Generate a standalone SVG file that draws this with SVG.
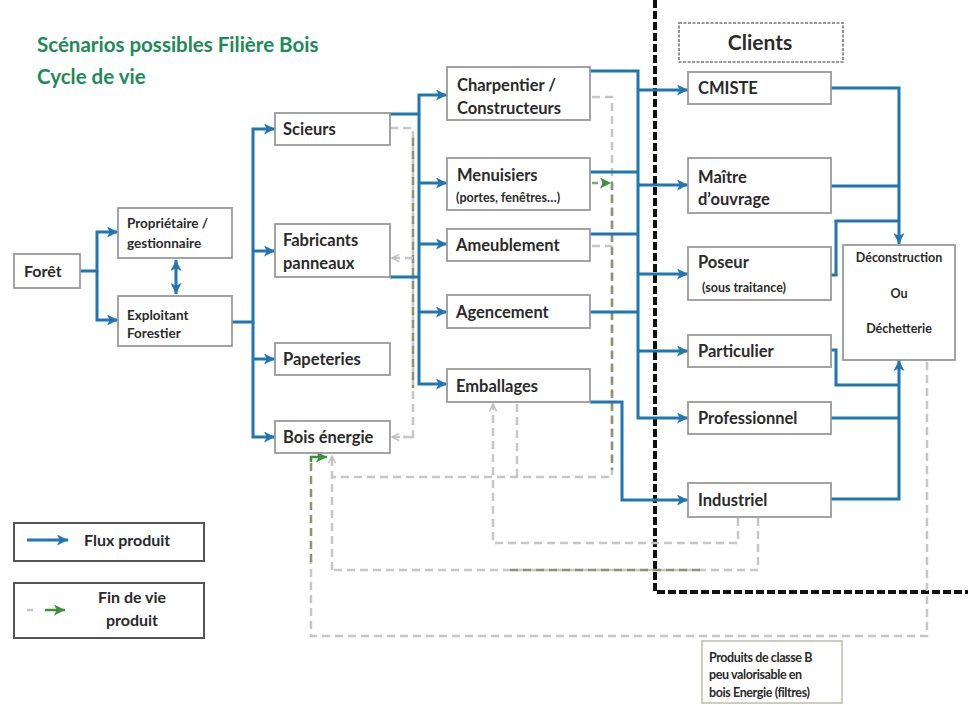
<svg xmlns="http://www.w3.org/2000/svg" width="968" height="705" viewBox="0 0 968 705">
<style>
text{font-family:Lato,"Open Sans","Liberation Sans",sans-serif;font-weight:bold;fill:#2a2a2a}
.t{font-size:16.5px}
.s{font-size:13.5px}
.xs{font-size:12.5px}
.title{font-size:20.5px;fill:#1e8a58}
.box{fill:#fff;stroke:#9a9a9a;stroke-width:1.8}
.flow{fill:none;stroke:#1f76b3;stroke-width:3}
.fa{marker-end:url(#ab)}
.fin{fill:none;stroke:#c6c6c6;stroke-width:2.5;stroke-dasharray:8 5}
.olive{fill:none;stroke:#8c9470;stroke-width:2.5;stroke-dasharray:8 5}
.fga{marker-end:url(#ag)}
.fgr{marker-end:url(#agr)}
</style>
<defs>
<marker id="ab" viewBox="0 0 10 10" refX="10" refY="5" markerWidth="11" markerHeight="11" markerUnits="userSpaceOnUse" orient="auto-start-reverse"><path d="M0,0 L10,5 L0,10 L2.5,5 z" fill="#1f76b3"/></marker>
<marker id="ag" viewBox="0 0 10 10" refX="10" refY="5" markerWidth="11" markerHeight="11" markerUnits="userSpaceOnUse" orient="auto"><path d="M0,0 L10,5 L0,10 L2.5,5 z" fill="#3d8f3a"/></marker>
<marker id="agr" viewBox="0 0 10 10" refX="9" refY="5" markerWidth="9" markerHeight="9" markerUnits="userSpaceOnUse" orient="auto"><path d="M1,1 L9,5 L1,9" fill="none" stroke="#bdbdbd" stroke-width="1.6"/></marker>
</defs>

<text class="title" x="37" y="52">Scénarios possibles Filière Bois</text>
<text class="title" x="37" y="84">Cycle de vie</text>

<!-- black dashed boundary -->
<path d="M655,0 V592 H968" fill="none" stroke="#111" stroke-width="4" stroke-dasharray="8 3"/>

<!-- connectors -->
<g id="connectors">
<!-- fin de vie (gray / olive dashed) -->
<path class="fin" d="M390,128 H413 V437 H403"/>
<path class="fin fgr" d="M413,437 H392"/>
<path class="olive" d="M413,138 V388"/>
<path class="fin fgr" d="M413,258 H392"/>
<path class="fin" d="M592,97 H612 V477 H332"/>
<path class="olive" d="M612,182 V470"/>
<path class="fin" d="M592,246 H612"/>
<path class="fin fgr" d="M332,570 V456"/>
<path class="fin" d="M758,518 V570 H332"/>
<path class="olive" d="M510,570 H700"/>
<path class="fin fgr" d="M738,518 V543 H493 V404"/>
<path class="fin" d="M517,404 V477"/>
<path class="fin" d="M927,362 V636 H311 V560"/>
<path class="olive" d="M311,562 V462"/>
<path fill="none" stroke="#3d8f3a" stroke-width="2.5" class="fga" d="M311,462 V457 H327"/>
<path fill="none" stroke="#7dab6a" stroke-width="2.5" stroke-dasharray="6 4" class="fga" d="M592,183 H611"/>

<!-- flux produit (blue) -->
<path class="flow fa" d="M80,271 H97 V232 H118"/>
<path class="flow fa" d="M97,271 V320 H118"/>
<path class="flow" d="M176,260 V294" marker-start="url(#ab)" marker-end="url(#ab)"/>
<path class="flow fa" d="M232,322 H253 V129 H275"/>
<path class="flow fa" d="M253,251 H275"/>
<path class="flow fa" d="M253,322 V437 H275"/>
<path class="flow fa" d="M253,359 H275"/>
<path class="flow fa" d="M390,114 H419 V95 H447"/>
<path class="flow fa" d="M419,114 V384 H447"/>
<path class="flow fa" d="M419,183 H447"/>
<path class="flow fa" d="M419,244 H447"/>
<path class="flow fa" d="M419,312 H447"/>
<path class="flow" d="M390,277 H419"/>
<path class="flow fa" d="M590,71 H638 V418 H688"/>
<path class="flow fa" d="M638,90 H688"/>
<path class="flow" d="M590,172 H638"/>
<path class="flow fa" d="M638,185 H688"/>
<path class="flow" d="M590,234 H638"/>
<path class="flow fa" d="M638,274 H688"/>
<path class="flow" d="M590,312 H638"/>
<path class="flow fa" d="M638,351 H688"/>
<path class="flow fa" d="M590,402 H622 V500 H688"/>
<path class="flow fa" d="M831,88 H899 V244"/>
<path class="flow" d="M831,186 H899"/>
<path class="flow" d="M831,275 H836 V221 H899"/>
<path class="flow" d="M831,350 H836 V385 H899"/>
<path class="flow" d="M831,418 H899"/>
<path class="flow fa" d="M831,499 H899 V360"/>
</g>

<!-- nodes -->
<g id="foret"><rect class="box" x="14" y="254" width="66" height="34"/><text x="24" y="277" style="font-size:16px">Forêt</text></g>
<g id="proprietaire"><rect class="box" x="118" y="208" width="114" height="50"/><text class="s" x="127" y="228">Propriétaire /</text><text class="s" x="127" y="248">gestionnaire</text></g>
<g id="exploitant"><rect class="box" x="118" y="296" width="114" height="50"/><text class="s" x="127" y="320">Exploitant</text><text class="s" x="127" y="338">Forestier</text></g>
<g id="scieurs"><rect class="box" x="275" y="113" width="115" height="32"/><text class="t" x="283" y="135">Scieurs</text></g>
<g id="fabricants"><rect class="box" x="275" y="224" width="115" height="53"/><text class="t" x="283" y="246">Fabricants</text><text class="t" x="283" y="269">panneaux</text></g>
<g id="papeteries"><rect class="box" x="275" y="343" width="115" height="32"/><text class="t" x="283" y="365">Papeteries</text></g>
<g id="boisenergie"><rect class="box" x="275" y="421" width="115" height="32"/><text class="t" x="283" y="443">Bois énergie</text></g>
<g id="charpentier"><rect class="box" x="447" y="67" width="143" height="53"/><text class="t" x="457" y="91">Charpentier /</text><text class="t" x="457" y="114">Constructeurs</text></g>
<g id="menuisiers"><rect class="box" x="447" y="158" width="143" height="52"/><text class="t" x="457" y="181">Menuisiers</text><text class="xs" x="456" y="202">(portes, fenêtres…)</text></g>
<g id="ameublement"><rect class="box" x="447" y="229" width="143" height="32"/><text class="t" x="456" y="251">Ameublement</text></g>
<g id="agencement"><rect class="box" x="447" y="295" width="143" height="33"/><text class="t" x="456" y="318">Agencement</text></g>
<g id="emballages"><rect class="box" x="447" y="369" width="143" height="33"/><text class="t" x="456" y="392">Emballages</text></g>
<g id="clients"><rect x="679" y="23" width="164" height="39" fill="#fff" stroke="#777" stroke-width="1.6" stroke-dasharray="3 1.5"/><text x="760" y="50" text-anchor="middle" style="font-size:21px">Clients</text></g>
<g id="cmiste"><rect class="box" x="688" y="72" width="143" height="32"/><text class="t" x="698" y="94">CMISTE</text></g>
<g id="maitre"><rect class="box" x="688" y="158" width="143" height="55"/><text class="t" x="698" y="183">Maître</text><text class="t" x="698" y="205">d’ouvrage</text></g>
<g id="poseur"><rect class="box" x="688" y="247" width="143" height="53"/><text class="t" x="698" y="268">Poseur</text><text class="xs" x="702" y="292">(sous traitance)</text></g>
<g id="particulier"><rect class="box" x="688" y="335" width="143" height="32"/><text class="t" x="698" y="357">Particulier</text></g>
<g id="professionnel"><rect class="box" x="688" y="402" width="143" height="32"/><text class="t" x="698" y="424">Professionnel</text></g>
<g id="industriel"><rect class="box" x="688" y="483" width="143" height="34"/><text class="t" x="698" y="506">Industriel</text></g>
<g id="deconstruction"><rect class="box" x="843" y="245" width="112" height="115"/><text class="xs" x="899" y="262" text-anchor="middle">Déconstruction</text><text class="xs" x="899" y="298" text-anchor="middle">Ou</text><text class="xs" x="899" y="333" text-anchor="middle">Déchetterie</text></g>
<g id="produitsB"><rect x="702" y="641" width="140" height="62" fill="#fff" stroke="#b8b8a8" stroke-width="1.4"/><text x="709" y="662" style="font-size:12.5px;letter-spacing:-0.4px">Produits de classe B</text><text x="709" y="679" style="font-size:12.5px;letter-spacing:-0.4px">peu valorisable en</text><text x="709" y="697" style="font-size:12.5px;letter-spacing:-0.4px">bois Energie (filtres)</text></g>

<!-- legend -->
<g id="legend-flux"><rect x="14" y="523" width="190" height="38" fill="#fff" stroke="#555" stroke-width="2"/><path class="flow fa" d="M27,540 H68"/><text x="84" y="546" style="font-size:16px">Flux produit</text></g>
<g id="legend-fin"><rect x="14" y="583" width="190" height="55" fill="#fff" stroke="#555" stroke-width="2"/><path d="M27,610 H33" stroke="#c6c6c6" stroke-width="2.5"/><path d="M45,610 H65" stroke="#3d8f3a" stroke-width="2.5" class="fga"/><text x="132" y="603" text-anchor="middle" style="font-size:16px">Fin de vie</text><text x="132" y="626" text-anchor="middle" style="font-size:16px">produit</text></g>
</svg>
